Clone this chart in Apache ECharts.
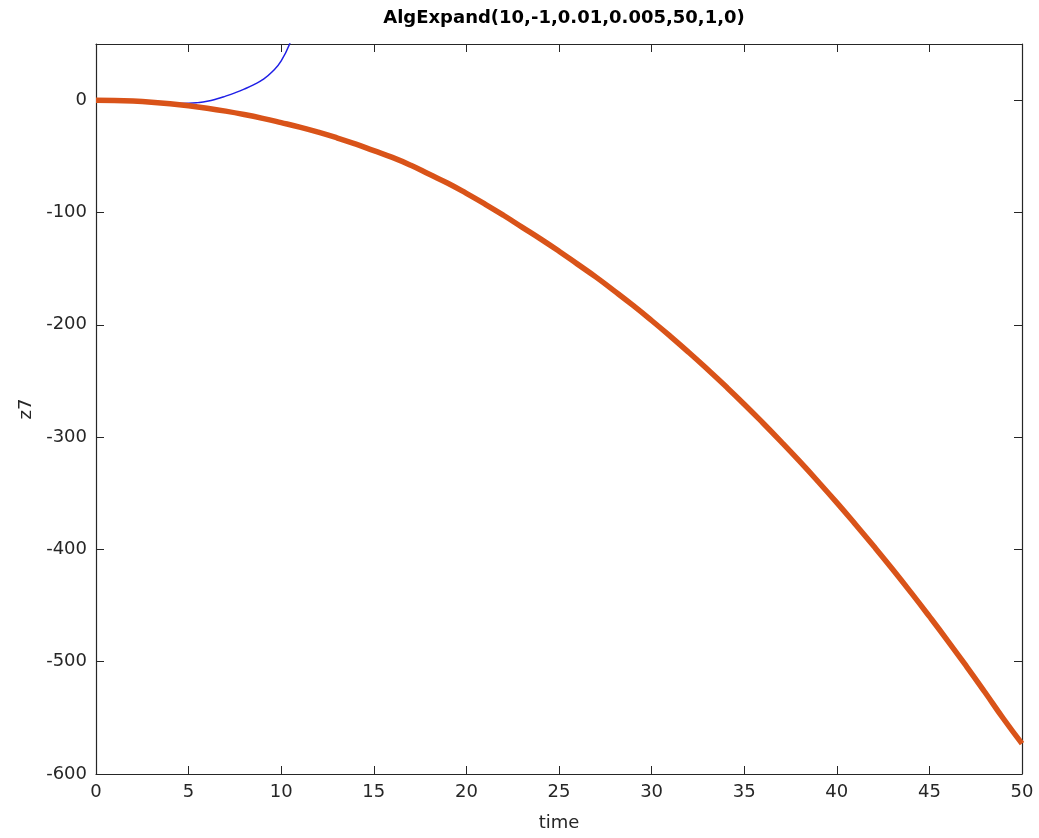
<!DOCTYPE html>
<html>
<head>
<meta charset="utf-8">
<script src="https://cdn.jsdelivr.net/npm/echarts@6/dist/echarts.min.js"></script>
<style>html,body{margin:0;padding:0;background:#fff;}#c{width:1039px;height:838px;}</style>
</head>
<body>
<div id="c"></div>
<script>
var titleText = "AlgExpand(10,-1,0.01,0.005,50,1,0)";
var xName = "time";
var yName = "z7";
var xTicks = [0, 5, 10, 15, 20, 25, 30, 35, 40, 45, 50];
var yTicks = [-600, -500, -400, -300, -200, -100, 0];

var tOrange = [0,1,2,3,4,5,6,7,8,9,10,11,12,13,14,15,16,17,18,19,20,21,22,23,24,25,26,27,28,29,30,31,32,33,34,35,36,37,38,39,40,41,42,43,44,45,46,47,48,49,50];
var zOrange = [0,-0.2,-0.8,-1.8,-3.2,-5.0,-7.2,-9.8,-12.8,-16.2,-20,-24,-28.5,-33.5,-39,-45,-51,-58,-66,-74,-83,-92.5,-102.5,-113,-123.5,-134.5,-146,-157.6,-170,-182.8,-196.2,-210.1,-224.5,-239.4,-254.8,-270.7,-287.2,-304.2,-321.7,-339.8,-358.4,-377.6,-397.3,-417.5,-438.3,-459.7,-481.6,-504.1,-527.2,-550.8,-573];

var tBlue = [0,0.5,1,1.5,2,2.5,3,3.5,4,4.5,5,5.5,6,6.5,7,7.5,8,8.5,9,9.5,10,10.5,11];
var zBlue = [0,-0.05,-0.2,-0.45,-0.8,-1.25,-1.8,-2.3,-2.7,-2.9,-2.8,-2.2,-1,1,3.6,6.5,9.8,13.6,18.2,25,35,52,76];

function pairs(xs, ys){ var out=[]; for(var i=0;i<xs.length;i++){out.push([xs[i], ys[i]]);} return out; }

var txt = '#262626';
var font = 'DejaVu Sans';
function boxAxis(pos, isX){
  var a = {
    type: 'value', position: pos,
    axisLine: {show: true, onZero: false, lineStyle: {color: txt, width: 1.2}},
    axisTick: {show: true, inside: true, length: 8, lineStyle: {color: txt}},
    axisLabel: {show: false}, splitLine: {show: false}
  };
  if (isX) { a.min = 0; a.max = 50; a.interval = 5; }
  else { a.min = -600; a.max = 50; a.interval = 100; }
  return a;
}
var xBottom = boxAxis('bottom', true);
xBottom.name = xName; xBottom.nameLocation = 'middle'; xBottom.nameGap = 40;
xBottom.nameTextStyle = {fontFamily: font, fontSize: 18, color: txt};
xBottom.axisLabel = {show: true, fontFamily: font, fontSize: 18, color: txt, margin: 9};
var xTop = boxAxis('top', true);
var yLeft = boxAxis('left', false);
yLeft.name = yName; yLeft.nameLocation = 'middle'; yLeft.nameGap = 53; yLeft.nameRotate = 90;
yLeft.nameTextStyle = {fontFamily: font, fontSize: 18, color: txt};
yLeft.axisLabel = {show: true, fontFamily: font, fontSize: 18, color: txt, margin: 9,
  formatter: function(v){ return yTicks.indexOf(v) >= 0 ? String(v) : ''; }};
var yRight = boxAxis('right', false);

var chart = echarts.init(document.getElementById('c'));
chart.setOption({
  animation: false,
  backgroundColor: '#ffffff',
  title: {
    text: titleText, left: 559, top: 4, textAlign: 'center',
    textStyle: {fontFamily: font, fontSize: 18, fontWeight: 'bold', color: '#000'}
  },
  grid: {left: 96, right: 17, top: 44, bottom: 64, containLabel: false},
  xAxis: [xBottom, xTop],
  yAxis: [yLeft, yRight],
  series: [{
    type: 'line', data: pairs(tBlue, zBlue), smooth: true, showSymbol: false,
    clip: true, lineStyle: {color: '#1f1fe6', width: 1.5}, z: 2
  }, {
    type: 'line', data: pairs(tOrange, zOrange), smooth: true, showSymbol: false,
    clip: true, lineStyle: {color: '#d95319', width: 5.5}, z: 3
  }]
});
</script>
</body>
</html>
